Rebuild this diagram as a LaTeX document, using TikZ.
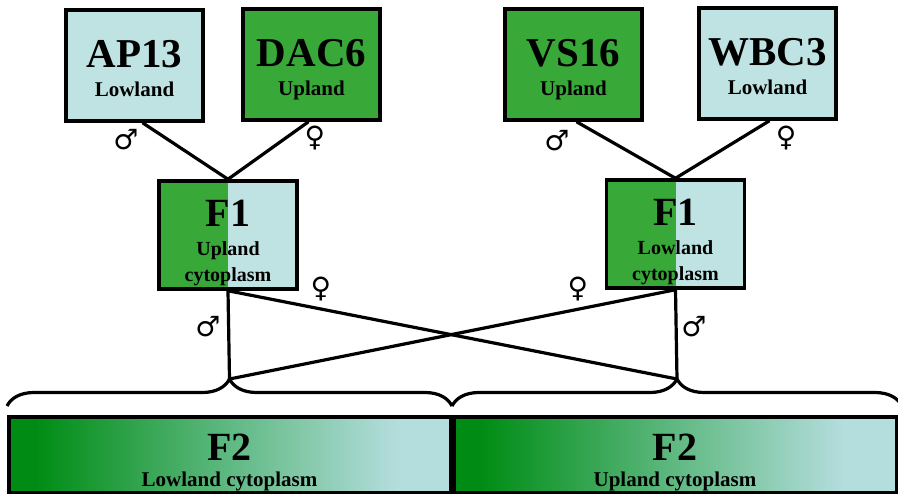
\documentclass[tikz,border=0pt]{standalone}
\usepackage{fontspec}
\setmainfont{Liberation Serif}
\newfontfamily\symfont{DejaVu Sans}
\usetikzlibrary{decorations.pathreplacing}
\definecolor{lowland}{RGB}{191,227,227}
\definecolor{upland}{RGB}{56,168,56}
\definecolor{ftwodark}{RGB}{0,140,20}
\definecolor{ftwomid}{RGB}{95,185,130}
\definecolor{ftwolight}{RGB}{180,221,221}
\pgfdeclarehorizontalshading{ftwoshade}{100bp}{color(0bp)=(ftwodark); color(28bp)=(ftwodark); color(50bp)=(ftwomid); color(69bp)=(ftwolight); color(100bp)=(ftwolight)}
\tikzset{
  parent/.style={draw,line width=3.5pt,minimum width=137pt,minimum height=111pt,inner sep=0pt,align=center,
    font=\bfseries\fontsize{21}{29}\selectfont,text height=63pt,text depth=0pt},
  hybrid/.style={draw,line width=3.5pt,minimum width=138pt,minimum height=108pt,inner sep=0pt,align=center,fill=lowland,
    path picture={\fill[upland] (path picture bounding box.south west) rectangle (path picture bounding box.north);},
    font=\bfseries\fontsize{20}{26}\selectfont,text height=94pt,text depth=0pt},
  ftwo/.style={draw,line width=3.5pt,shade,shading=ftwoshade,minimum height=75.5pt,inner sep=0pt,align=center,
    font=\bfseries\fontsize{21}{26}\selectfont,text height=63pt,text depth=0pt},
  sex/.style={font=\symfont\fontsize{28}{28}\selectfont,inner sep=0pt},
  curly/.style={decorate,decoration={brace,amplitude=27pt}}
}
\newcommand{\bigname}[1]{{\fontsize{41}{29}\selectfont #1}}
\begin{document}
\begin{tikzpicture}[x=1pt,y=-1pt,line width=3.2pt]
\useasboundingbox (0,0) rectangle (898,497);
% parents
\node[parent,fill=lowland] (AP13) at (134.5,65.5) {\bigname{AP13}\\Lowland};
\node[parent,fill=upland] (DAC6) at (311.5,64.5) {\bigname{DAC6}\\Upland};
\node[parent,fill=upland] (VS16) at (573.5,64.5) {\bigname{VS16}\\Upland};
\node[parent,fill=lowland] (WBC3) at (767.5,63.5) {\bigname{WBC3}\\Lowland};
% F1 hybrids
\node[hybrid] (F1L) at (228,235) {{\fontsize{40}{26}\selectfont F1}\\[3pt]Upland\\cytoplasm};
\node[hybrid] (F1R) at (675.5,234) {{\fontsize{40}{26}\selectfont F1}\\[3pt]Lowland\\cytoplasm};
% F2 bars
\node[ftwo,minimum width=441.5pt] (F2L) at (229.5,454.5) {{\fontsize{40}{26}\selectfont F2}\\Lowland cytoplasm};
\node[ftwo,minimum width=442.5pt] (F2R) at (675,454.5) {{\fontsize{40}{26}\selectfont F2}\\Upland cytoplasm};
\draw[curly] (7,406)--(452,406);\draw[curly] (452,406)--(902,406);
\coordinate (tipL) at (229.5,379);\coordinate (tipR) at (677,379);
% crosses
\draw ([xshift=8pt]AP13.south)--(F1L.north);\draw ([xshift=-3pt]DAC6.south)--(F1L.north);
\draw ([xshift=3pt]VS16.south)--(F1R.north);\draw ([xshift=2pt]WBC3.south)--(F1R.north);
\draw (F1L.south)--(tipL);\draw (F1L.south)--(tipR);
\draw (F1R.south)--(tipR);\draw (F1R.south)--(tipL);
\node[sex] (mAP13) at (126,140) {♂};\node[sex] (fDAC6) at (315,138) {♀};
\node[sex] (mVS16) at (557,141) {♂};\node[sex] (fWBC3) at (786,138) {♀};
\node[sex] (fF1L) at (321,289) {♀};\node[sex] (mF1L) at (208,327) {♂};
\node[sex] (fF1R) at (578,289) {♀};\node[sex] (mF1R) at (694,327) {♂};
\end{tikzpicture}
\end{document}
